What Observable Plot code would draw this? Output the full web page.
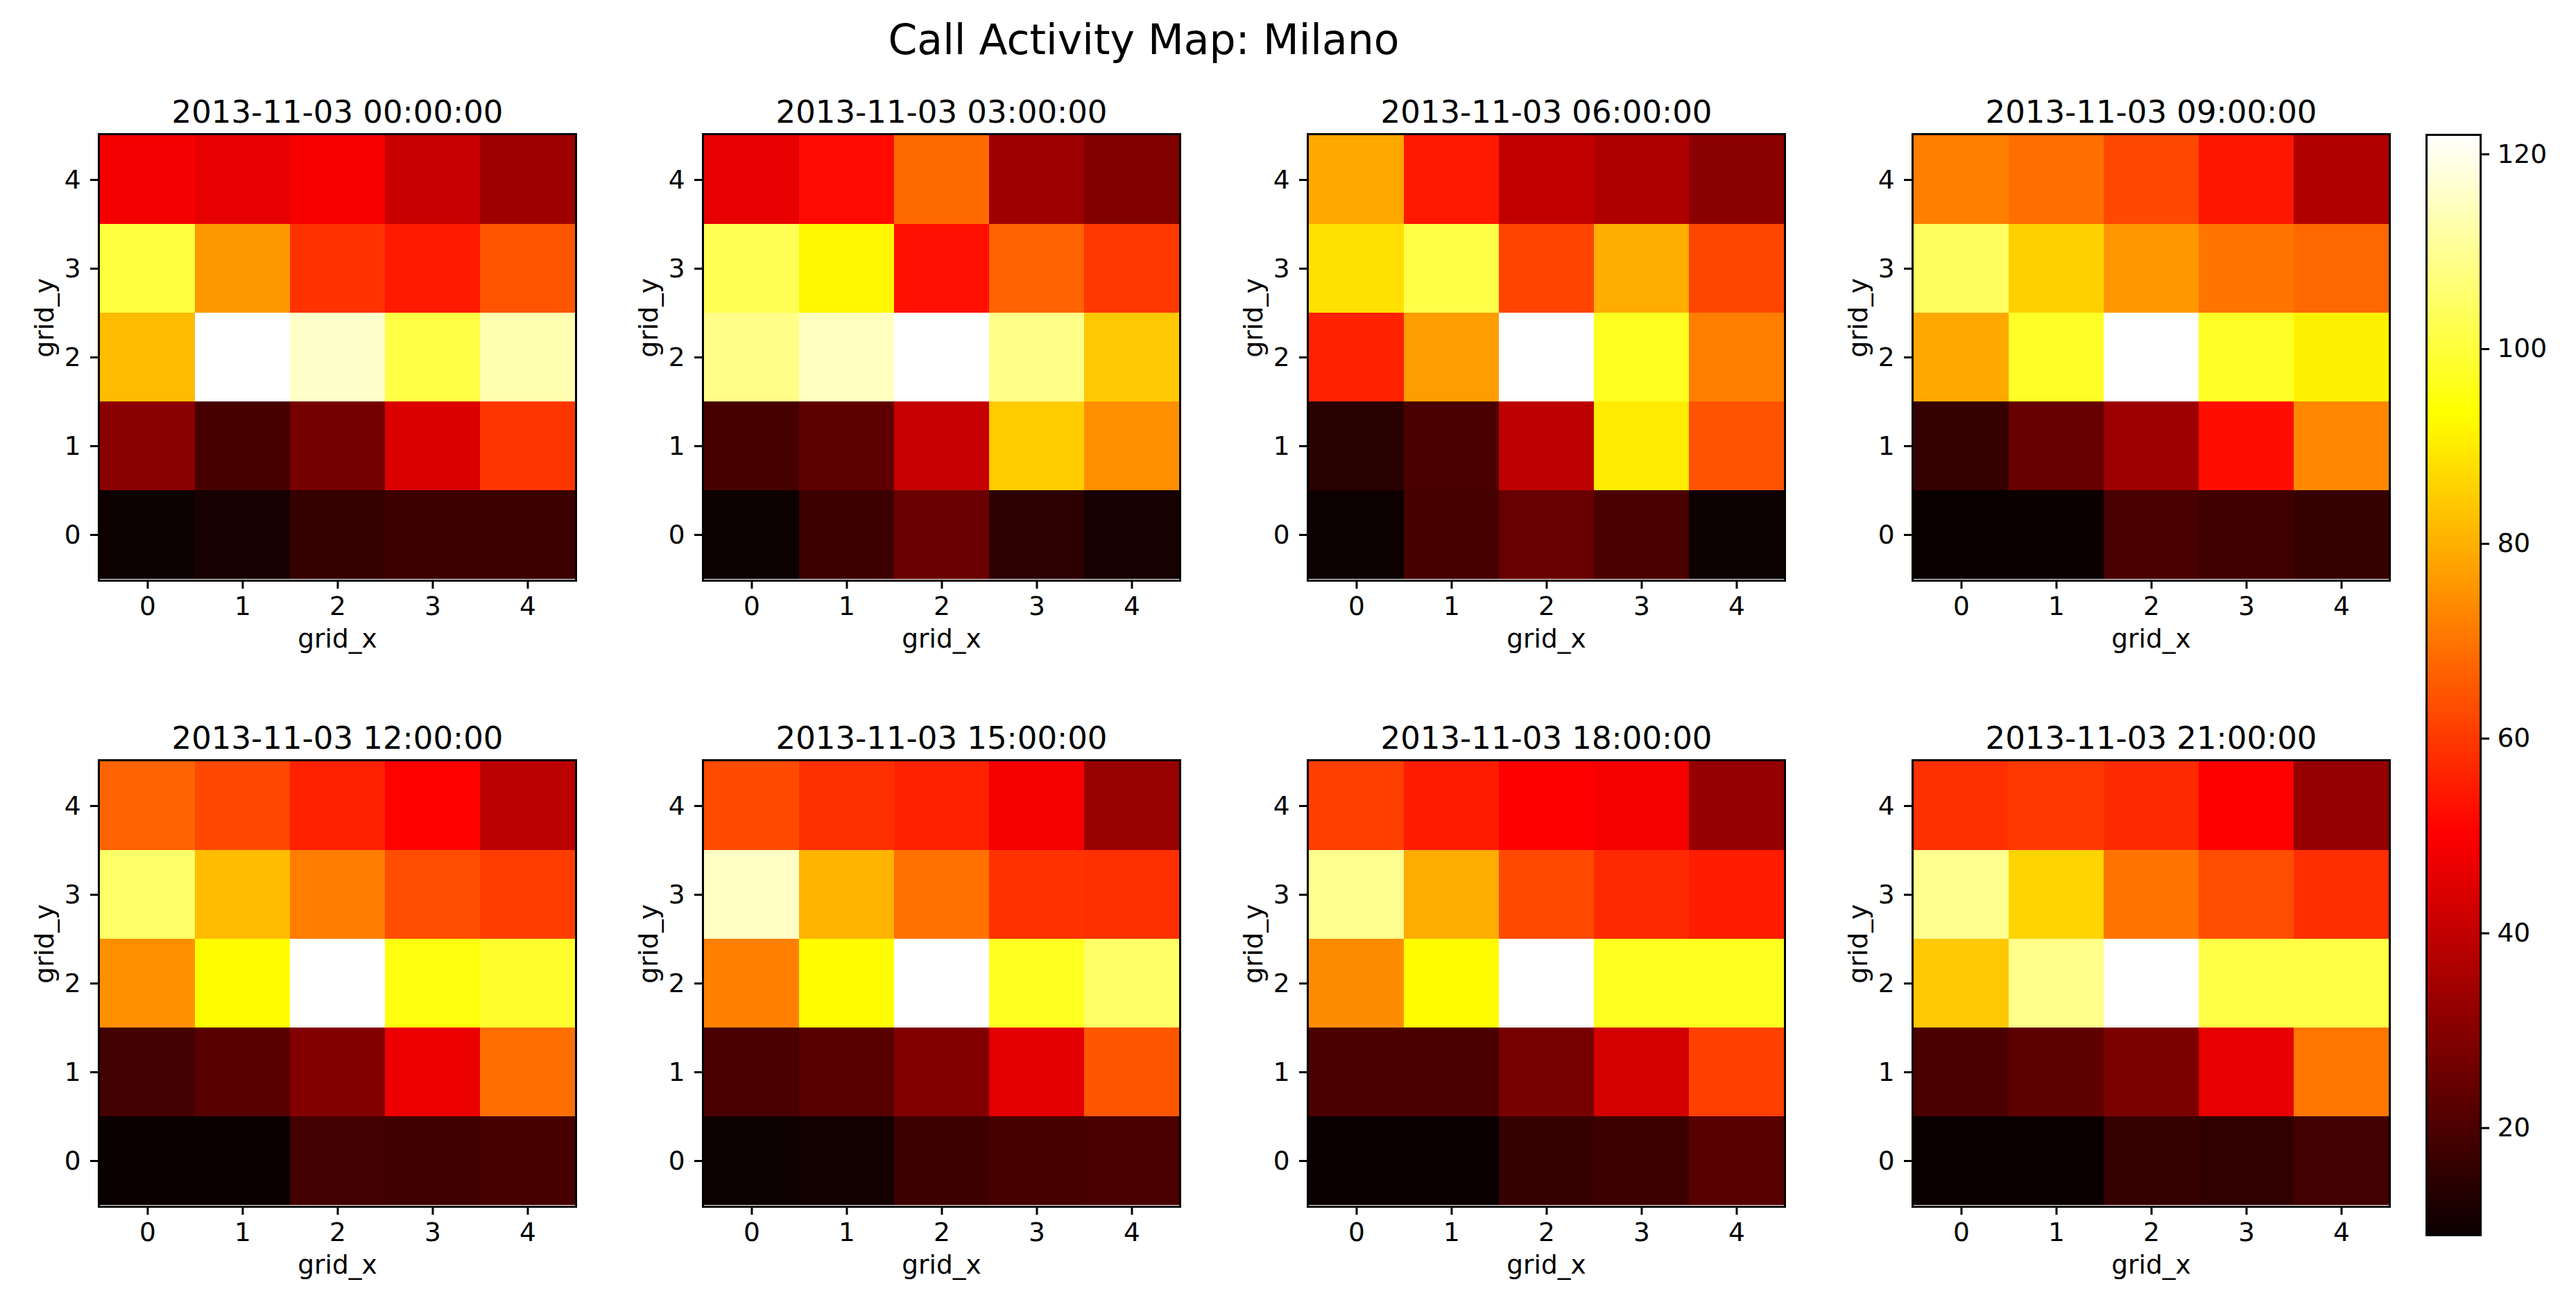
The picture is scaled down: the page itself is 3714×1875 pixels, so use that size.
<!DOCTYPE html>
<html>
<head>
<meta charset="utf-8">
<script src="https://cdn.jsdelivr.net/npm/d3@7"></script>
<script src="https://cdn.jsdelivr.net/npm/@observablehq/plot@0.6"></script>
<style>
  body { margin: 0; background: #fff; }
  #fig { position: relative; width: 3714px; height: 1875px; background: #fff; overflow: hidden;
         font-family: "DejaVu Sans", sans-serif; color: #000; }
  #fig svg { position: absolute; }
  #suptitle { position: absolute; left: 649px; width: 2000px; top: 22px; text-align: center;
              font-size: 60px; line-height: 70px; }
</style>
</head>
<body>
<div id="fig"><div id="suptitle">Call Activity Map: Milano</div></div>
<script>
// ---------------- data ----------------
const gridX = [0, 1, 2, 3, 4];
const gridY = [0, 1, 2, 3, 4];
const timestamps = [
  "2013-11-03 00:00:00", "2013-11-03 03:00:00", "2013-11-03 06:00:00", "2013-11-03 09:00:00",
  "2013-11-03 12:00:00", "2013-11-03 15:00:00", "2013-11-03 18:00:00", "2013-11-03 21:00:00"
];
// each array: rows from grid_y = 4 (top) down to grid_y = 0, columns grid_x = 0..4
const calls0000 = [
  [48.6, 46.0, 49.1, 41.0, 33.9],
  [100.5, 76.1, 58.9, 54.6, 64.6],
  [81.8, 122.0, 116.0, 101.1, 113.0],
  [30.7, 18.9, 27.0, 44.2, 59.2],
  [9.4, 10.8, 16.2, 17.5, 17.2]
];
const calls0300 = [
  [46.0, 51.9, 68.1, 33.5, 28.8],
  [102.9, 92.1, 53.0, 67.1, 59.7],
  [108.6, 114.9, 122.0, 108.6, 84.0],
  [18.9, 23.1, 40.6, 84.7, 74.4],
  [9.4, 17.5, 25.3, 14.5, 10.8]
];
const calls0600 = [
  [78.6, 54.3, 40.0, 36.7, 30.7],
  [88.1, 101.4, 61.7, 79.5, 62.1],
  [56.0, 76.6, 122.0, 96.9, 71.5],
  [14.0, 19.9, 39.1, 90.1, 64.1],
  [9.4, 18.9, 24.8, 19.9, 9.4]
];
const calls0900 = [
  [71.7, 68.8, 62.4, 54.0, 36.9],
  [104.1, 85.4, 75.9, 70.0, 67.8],
  [78.6, 97.5, 122.0, 97.5, 91.1],
  [16.3, 24.4, 33.5, 52.6, 73.2],
  [9.0, 9.0, 19.4, 18.0, 16.2]
];
const calls1200 = [
  [67.1, 62.4, 55.7, 50.6, 38.8],
  [105.0, 82.0, 71.4, 63.2, 60.5],
  [74.4, 92.8, 122.0, 94.9, 98.7],
  [18.5, 21.7, 29.2, 47.0, 68.8],
  [9.0, 9.0, 18.7, 18.0, 19.2]
];
const calls1500 = [
  [62.7, 58.4, 56.0, 48.9, 33.0],
  [115.5, 80.6, 69.5, 58.9, 58.4],
  [71.9, 92.8, 122.0, 96.9, 104.8],
  [19.7, 21.7, 28.8, 45.5, 64.8],
  [9.4, 10.4, 17.5, 19.0, 19.7]
];
const calls1800 = [
  [60.9, 55.0, 50.3, 48.9, 32.4],
  [109.5, 79.5, 62.7, 57.3, 55.0],
  [73.9, 92.8, 122.0, 96.9, 96.9],
  [19.9, 19.9, 27.3, 43.0, 61.1],
  [9.0, 9.0, 16.5, 17.5, 21.9]
];
const calls2100 = [
  [58.4, 59.7, 57.3, 50.3, 32.4],
  [109.5, 86.0, 70.0, 63.2, 58.0],
  [84.0, 109.0, 122.0, 101.1, 101.1],
  [19.9, 23.1, 28.0, 46.0, 70.3],
  [9.0, 9.0, 16.2, 15.3, 18.4]
];
const panels = [calls0000, calls0300, calls0600, calls0900, calls1200, calls1500, calls1800, calls2100];
const colorDomain = [9, 122];
const colorTicks = [20, 40, 60, 80, 100, 120];

// --------------- "hot" colormap (matplotlib) ---------------
const span = colorDomain[1] - colorDomain[0];
const hotColor = {
  type: "linear",
  domain: [colorDomain[0], colorDomain[0] + 0.365079 * span, colorDomain[0] + 0.746032 * span, colorDomain[1]],
  range: ["#0b0000", "#ff0000", "#ffff00", "#ffffff"],
  interpolate: "rgb",
  clamp: true
};

// --------------- layout ---------------
const PW = 688, PH = 644;
const colLefts = [142, 1013, 1885, 2757];
const rowTops = [193, 1096];
const M = {left: 140, right: 12, top: 100, bottom: 130};
const baseStyle = {fontFamily: '"DejaVu Sans", sans-serif', fontSize: "37.5px", color: "#000",
                   background: "transparent", overflow: "visible"};

function toCells(rows) {
  const out = [];
  rows.forEach((row, i) => row.forEach((v, j) => out.push({gx: gridX[j], gy: gridY[gridY.length - 1 - i], v})));
  return out;
}

const fig = document.getElementById("fig");

panels.forEach((rows, k) => {
  const svg = Plot.plot({
    width: M.left + PW + M.right,
    height: M.top + PH + M.bottom,
    marginLeft: M.left, marginRight: M.right, marginTop: M.top, marginBottom: M.bottom,
    style: baseStyle,
    x: {type: "band", domain: gridX, padding: 0},
    y: {type: "band", domain: [...gridY].reverse(), padding: 0},
    color: hotColor,
    marks: [
      Plot.cell(toCells(rows), {x: "gx", y: "gy", fill: "v", inset: 0, shapeRendering: "crispEdges"}),
      Plot.frame({stroke: "#000", strokeWidth: 3}),
      Plot.axisX({tickSize: 12, tickPadding: 11, strokeWidth: 3, label: null}),
      Plot.axisY({tickSize: 12, tickPadding: 14, strokeWidth: 3, label: null}),
      Plot.text([timestamps[k]], {frameAnchor: "top", lineAnchor: "bottom", dy: -17, fontSize: 45}),
      Plot.text(["grid_x"], {frameAnchor: "bottom", lineAnchor: "middle", dy: 84}),
      Plot.text(["grid_y"], {frameAnchor: "left", lineAnchor: "middle", dx: -78, rotate: -90})
    ]
  });
  svg.style.left = (colLefts[k % 4] - M.left) + "px";
  svg.style.top = (rowTops[Math.floor(k / 4)] - M.top) + "px";
  fig.appendChild(svg);
});

// --------------- colorbar ---------------
const CB = {x: 3498, y: 194, w: 78, h: 1587};
const cbM = {left: 8, right: 120, top: 10, bottom: 10};
const cb = Plot.plot({
  width: cbM.left + CB.w + cbM.right,
  height: cbM.top + CB.h + cbM.bottom,
  marginLeft: cbM.left, marginRight: cbM.right, marginTop: cbM.top, marginBottom: cbM.bottom,
  style: baseStyle,
  x: {domain: [0, 1], axis: null},
  y: {domain: colorDomain},
  color: hotColor,
  marks: [
    Plot.raster({x1: 0, x2: 1, y1: colorDomain[0], y2: colorDomain[1], width: 2, height: 800,
                 fill: (x, y) => y, imageRendering: "auto"}),
    Plot.frame({stroke: "#000", strokeWidth: 3}),
    Plot.axisY({anchor: "right", ticks: colorTicks, tickSize: 12, tickPadding: 12, strokeWidth: 3, label: null})
  ]
});
cb.style.left = (CB.x - cbM.left) + "px";
cb.style.top = (CB.y - cbM.top) + "px";
fig.appendChild(cb);
</script>
</body>
</html>
